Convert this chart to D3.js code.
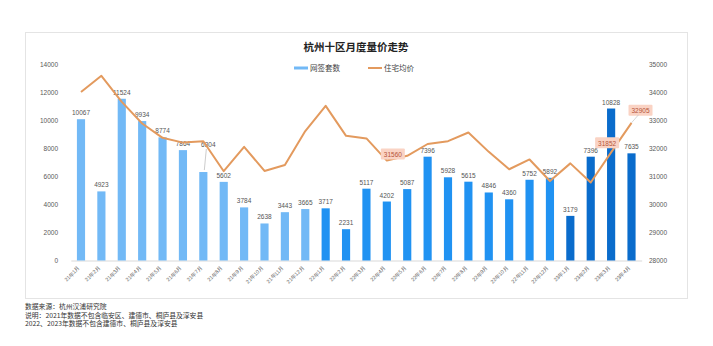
<!DOCTYPE html>
<html><head><meta charset="utf-8">
<script src="https://cdn.jsdelivr.net/npm/d3@7/dist/d3.min.js"></script>
<style>
html,body{margin:0;padding:0;background:#fff;}
svg{display:block;font-family:"Noto Sans CJK SC","Noto Sans",sans-serif;}
</style></head>
<body><svg id="c" width="713" height="346"></svg>
<script>
const months = ["21年1月","21年2月","21年3月","21年4月","21年5月","21年6月","21年7月","21年8月","21年9月","21年10月","21年11月","21年12月",
"22年1月","22年2月","22年3月","22年4月","22年5月","22年6月","22年7月","22年8月","22年9月","22年10月","22年11月","22年12月",
"23年1月","23年2月","23年3月","23年4月"];
const volume = [10067,4923,11524,9934,8774,7864,6304,5602,3784,2638,3443,3665,3717,2231,5117,4202,5087,7396,5928,5615,4846,4360,5752,5892,3179,7396,10828,7635];
const price = [34000,34580,33650,32880,32370,32200,32250,31180,32050,31190,31400,32610,33510,32440,32350,31560,31730,32150,32250,32560,31870,31250,31600,30830,31460,30780,31852,32905];
const leftTicks = [0,2000,4000,6000,8000,10000,12000,14000];
const rightTicks = [28000,29000,30000,31000,32000,33000,34000,35000];
const highlighted = ["22年4月","23年3月","23年4月"];
const title = "杭州十区月度量价走势";
const legendNames = ["网签套数","住宅均价"];
const notes = ["数据来源：杭州汉浦研究院","说明：2021年数据不包含临安区、建德市、桐庐县及淳安县","2022、2023年数据不包含建德市、桐庐县及淳安县"];

const svg = d3.select("#c");
const yearColor = {"21":"#72b9f6","22":"#2092f2","23":"#0a6ccc"};
const lineColor = "#e39a5e";

// frame
svg.append("rect").attr("x",25.5).attr("y",32.5).attr("width",662).attr("height",266)
  .attr("fill","#fff").attr("stroke","#e4e4e4");

const x = d3.scaleBand().domain(months).range([70.8,641.7]).paddingInner(0.6).paddingOuter(0.3);
const yL = d3.scaleLinear().domain([0,14000]).range([260.5,64]);
const yR = d3.scaleLinear().domain([28000,35000]).range([260.5,64]);

// title
svg.append("text").attr("x",356).attr("y",51).attr("text-anchor","middle")
  .attr("font-size",10.5).attr("font-weight","bold").attr("fill","#222").text(title);

// legend
const lg = svg.append("g");
lg.append("line").attr("x1",294).attr("x2",308).attr("y1",68).attr("y2",68).attr("stroke",yearColor["21"]).attr("stroke-width",3);
lg.append("text").attr("x",310).attr("y",70.5).attr("font-size",7.5).attr("fill","#444").text(legendNames[0]);
lg.append("line").attr("x1",368).attr("x2",382).attr("y1",68).attr("y2",68).attr("stroke",lineColor).attr("stroke-width",2);
lg.append("text").attr("x",384).attr("y",70.5).attr("font-size",7.5).attr("fill","#444").text(legendNames[1]);

// axes
const axL = svg.append("g").attr("transform","translate(60,0)")
  .call(d3.axisLeft(yL).tickValues(leftTicks).tickSize(0).tickPadding(2).tickFormat(d3.format("d")));
const axR = svg.append("g").attr("transform","translate(647,0)")
  .call(d3.axisRight(yR).tickValues(rightTicks).tickSize(0).tickPadding(2).tickFormat(d3.format("d")));
[axL,axR].forEach(a=>{a.select(".domain").remove();a.selectAll("text").attr("font-size",6.5).attr("fill","#595959").attr("font-family","'Liberation Sans',sans-serif");});

const axX = svg.append("g").attr("transform","translate(0,260.5)")
  .call(d3.axisBottom(x).tickSize(0).tickPadding(0));
axX.select(".domain").attr("stroke","#d9d9d9");
axX.selectAll("text").attr("font-size",5.3).attr("fill","#595959")
  .attr("text-anchor","end").attr("dy",0)
  .attr("transform","translate(-1,8) rotate(-45)");

// bars
svg.append("g").selectAll("rect").data(months).join("rect")
  .attr("x",d=>x(d)).attr("width",x.bandwidth())
  .attr("y",(d,i)=>yL(volume[i])).attr("height",(d,i)=>yL(0)-yL(volume[i]))
  .attr("fill",d=>yearColor[d.slice(0,2)]);

// bar labels
const lbl = svg.append("g").attr("font-size",6.5).attr("fill","#555").attr("text-anchor","middle")
  .attr("font-family","'Liberation Sans',sans-serif");
months.forEach((m,i)=>{
  const cx = x(m)+x.bandwidth()/2;
  let ty = yL(volume[i])-4;
  let tx = cx;
  if(m==="21年7月"){ ty = yL(volume[i])-25; tx = cx+5;
    svg.append("line").attr("x1",cx+3).attr("x2",cx+1).attr("y1",ty+2).attr("y2",yL(volume[i])-2).attr("stroke","#aaa").attr("stroke-width",0.6);}
  lbl.append("text").attr("x",tx).attr("y",ty).text(volume[i]);
});

// price line
const line = d3.line().x((d,i)=>x(months[i])+x.bandwidth()/2).y(d=>yR(d));
svg.append("path").datum(price).attr("d",line).attr("fill","none").attr("stroke",lineColor).attr("stroke-width",2).attr("stroke-linejoin","round");

// highlighted price labels
const offs = {"22年4月":[6,-6],"23年3月":[-4,-9],"23年4月":[9,-12]};
highlighted.forEach(m=>{
  const i = months.indexOf(m);
  const px = x(m)+x.bandwidth()/2, py = yR(price[i]);
  const [dx,dy] = offs[m];
  const g = svg.append("g").attr("transform",`translate(${px+dx},${py+dy})`);
  if(m==="23年4月"){
    svg.append("line").attr("x1",px).attr("y1",py).attr("x2",px+dx-2).attr("y2",py+dy+4).attr("stroke","#bbb").attr("stroke-width",0.6);
  }
  g.append("rect").attr("x",-12).attr("y",-6).attr("width",24).attr("height",11).attr("fill","#fad3c4").attr("rx",1);
  g.append("text").attr("text-anchor","middle").attr("y",2.3).attr("font-size",6.5).attr("fill","#b5543a")
    .attr("font-family","'Liberation Sans',sans-serif").text(price[i]);
});

// notes
notes.forEach((t,i)=>{
  svg.append("text").attr("x",25).attr("y",309+i*8.5).attr("font-size",6.8).attr("fill","#333").text(t);
});
</script></body></html>
